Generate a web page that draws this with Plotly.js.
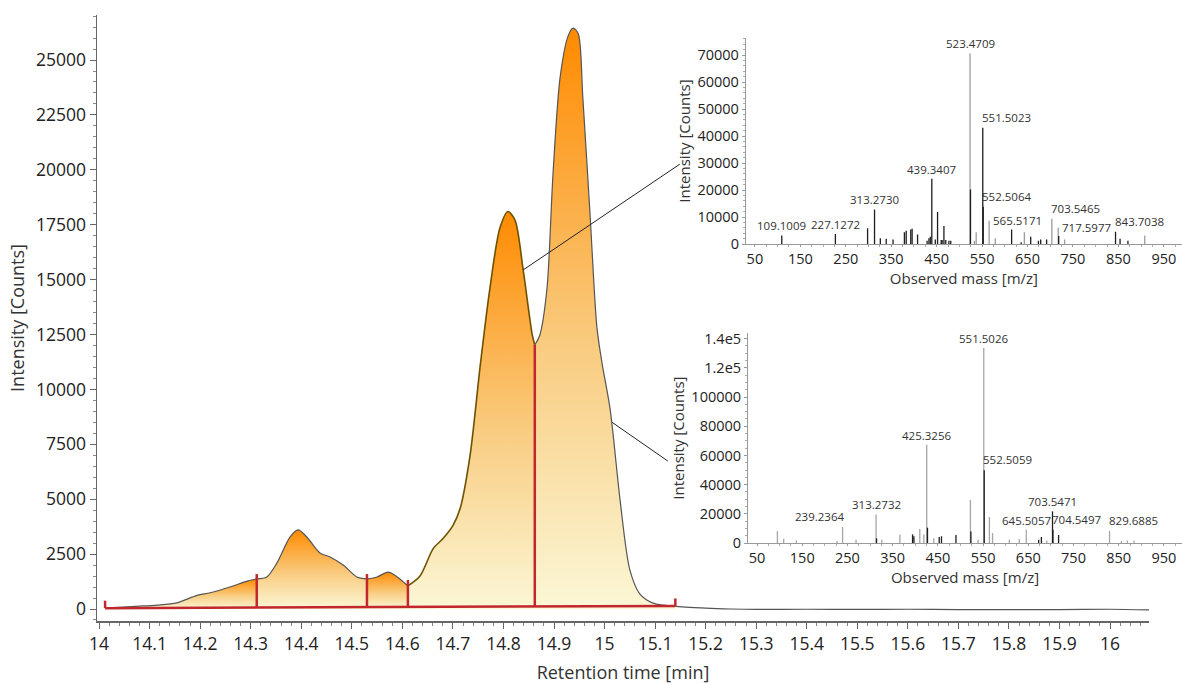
<!DOCTYPE html>
<html>
<head>
<meta charset="utf-8">
<script src="https://cdn.plot.ly/plotly-3.0.1.min.js"></script>
<style>html,body{margin:0;padding:0;background:#fff;}#chart{width:1182px;height:684px;}</style>
</head>
<body>
<div id="chart"></div>
<script>
// ---------- Chromatogram (retention time [min] vs intensity [counts]) ----------
const rtTimes = [14.016, 14.047, 14.08, 14.115, 14.154, 14.194, 14.22, 14.259, 14.293, 14.312,
  14.332, 14.352, 14.378, 14.394, 14.411, 14.437, 14.457, 14.483, 14.51, 14.53,
  14.55, 14.572, 14.59, 14.611,
  14.635, 14.661, 14.68, 14.70, 14.714, 14.734, 14.754, 14.773, 14.793, 14.809, 14.823, 14.839, 14.857, 14.862,
  14.872, 14.886, 14.898, 14.912, 14.928, 14.938, 14.948, 14.957, 14.971, 14.985, 14.995, 15.011, 15.031, 15.05, 15.07, 15.096, 15.14];
const rtIntensity = [50, 90, 130, 180, 280, 620, 740, 1000, 1270, 1370,
  1460, 2100, 3280, 3600, 3280, 2550, 2370, 2000, 1460, 1370,
  1460, 1680, 1460, 1050,
  1500, 2750, 3200, 3800, 4550, 7000, 11070, 14570, 17350, 18100, 17700, 15440, 12480, 12020,
  12480, 14570, 19800, 24200, 26100, 26450, 26200, 23300, 18080, 12800, 11200, 9100, 4900, 1780, 680, 270, 120];
const tailTimes = [15.14, 15.2, 15.25, 15.3, 15.4, 15.5, 15.6, 15.7, 15.8, 15.9, 16.0, 16.077];
const tailIntensity = [120, 40, 0, -20, -10, -20, -10, -30, -30, -30, -10, -40];

// integration boundaries
const segmentBounds = [14.016, 14.312, 14.53, 14.611, 14.862, 15.14];
const splitTimes = [14.312, 14.53, 14.611, 14.862];
const splitTops = [1590, 1590, 1320, 12020];
const baselineTimes = [14.012, 15.14];
const baselineValues = [40, 140];
const baselineEndTops = [380, 480];

// connector lines (main chart -> insets)
const connectorFrom = [[14.839, 15440], [15.015, 8500]];
const connectorTo = [[15.149, 20260], [15.125, 6740]];

// ---------- Spectrum 1 (top inset) ----------
const spec1DarkMz = [109.1009, 227.1272, 298, 313.2730, 326, 339, 354, 379, 383, 393, 396, 408, 429, 433, 436, 439.3407,
  447, 452, 460, 462, 466, 470, 477, 481, 524.47, 551.5023, 552.5064, 615, 636, 657, 674, 679, 692, 718.6, 843.7038, 853.7, 871];
const spec1DarkInt = [3200, 3700, 5900, 12800, 2200, 2000, 1700, 4400, 4900, 5400, 5700, 3500, 1200, 2200, 2700, 24200,
  1700, 11850, 1500, 1500, 6700, 1500, 1200, 1200, 20200, 43100, 13800, 5400, 700, 2700, 1200, 1700, 1700, 3000, 4600, 2000, 1200];
const spec1GrayMz = [523.4709, 533, 537, 565.5171, 579, 643, 703.5465, 717.5977, 731.6, 908];
const spec1GrayInt = [70600, 1200, 4400, 8600, 2200, 4400, 9400, 6000, 1700, 3200];
const spec1Labels = ['109.1009', '227.1272', '313.2730', '439.3407', '523.4709', '551.5023', '552.5064', '565.5171', '703.5465', '717.5977', '843.7038'];
const spec1LabelPlace = ['c', 'c', 'c', 'c', 'c', 'l', 'l', 'lm', 'l', 'lm', 'l'];

// ---------- Spectrum 2 (bottom inset) ----------
const spec2GrayMz = [95, 109, 137, 227, 239.2364, 269, 313.2732, 326, 366, 410, 419, 425.3256, 441, 522, 539, 551.5026,
  564, 571, 608, 630, 645.5057, 691, 829.6885, 856, 869, 884];
const spec2GrayInt = [8200, 3000, 1800, 1400, 11000, 2300, 19600, 2300, 5900, 9600, 5900, 67350, 3200, 29700, 2300, 133600,
  17800, 6800, 2300, 2700, 9100, 1800, 8200, 1400, 1800, 1800];
const spec2DarkMz = [314.3, 394, 397, 427, 453, 458, 490, 523, 552.5059, 673, 679, 703.5471, 704.5497, 717];
const spec2DarkInt = [3200, 5900, 4600, 10500, 4100, 4600, 5500, 7800, 49800, 2300, 4100, 21700, 9100, 5500];
const spec2Labels = ['239.2364', '313.2732', '425.3256', '551.5026', '552.5059', '645.5057', '703.5471', '704.5497', '829.6885'];
const spec2LabelPlace = ['r', 'c', 'c', 'c', 'l', 'c', 'c', 'l', 'l'];
const spec2YTickVals = [0, 20000, 40000, 60000, 80000, 100000, 120000, 140000];
const spec2YTickText = ['0', '20000', '40000', '60000', '80000', '100000', '1.2e5', '1.4e5'];

// ---------- build ----------
const FONT = 'Open Sans, Noto Sans, sans-serif';
const RED = '#c1272d';
const traces = [];

for (let s = 0; s < segmentBounds.length - 1; s++) {
  const lo = segmentBounds[s], hi = segmentBounds[s + 1];
  const xs = [], ys = [];
  rtTimes.forEach((t, i) => { if (t >= lo - 1e-9 && t <= hi + 1e-9) { xs.push(t); ys.push(rtIntensity[i]); } });
  const top = Math.max(...ys);
  const highlighted = (s === 3);
  traces.push({
    type: 'scatter', mode: 'lines', x: xs, y: ys, xaxis: 'x', yaxis: 'y',
    line: { color: highlighted ? '#6e5200' : '#555', width: highlighted ? 1.6 : 1.2, shape: 'spline', smoothing: 0.8 },
    fill: 'tozeroy',
    fillgradient: { type: 'vertical', start: 0, stop: top,
      colorscale: [[0, '#fbf7d6'], [0.45, '#f9cc80'], [1, '#ff8a00']] },
    hoverinfo: 'skip'
  });
}
traces.push({
  type: 'scatter', mode: 'lines', x: tailTimes, y: tailIntensity, xaxis: 'x', yaxis: 'y',
  line: { color: '#555', width: 1.2, shape: 'spline', smoothing: 0.8 }, hoverinfo: 'skip'
});
// baseline
traces.push({ type: 'scatter', mode: 'lines', x: baselineTimes, y: baselineValues, xaxis: 'x', yaxis: 'y',
  line: { color: RED, width: 2.5 }, hoverinfo: 'skip' });
// split + end markers
(function () {
  const xs = [], ys = [];
  const baseAt = t => baselineValues[0] + (baselineValues[1] - baselineValues[0]) * (t - baselineTimes[0]) / (baselineTimes[1] - baselineTimes[0]);
  splitTimes.forEach((t, i) => { xs.push(t, t, null); ys.push(baseAt(t), splitTops[i], null); });
  baselineTimes.forEach((t, i) => { xs.push(t, t, null); ys.push(baselineValues[i], baselineEndTops[i], null); });
  traces.push({ type: 'scatter', mode: 'lines', x: xs, y: ys, xaxis: 'x', yaxis: 'y',
    line: { color: RED, width: 2.5 }, hoverinfo: 'skip' });
})();

function sticks(mz, inten) {
  const x = [], y = [];
  mz.forEach((m, i) => { x.push(m, m, null); y.push(0, inten[i], null); });
  return { x, y };
}
function stickTrace(mz, inten, color, xa, ya) {
  const s = sticks(mz, inten);
  return { type: 'scatter', mode: 'lines', x: s.x, y: s.y, xaxis: xa, yaxis: ya,
    line: { color: color, width: 1.3 }, hoverinfo: 'skip' };
}
traces.push(stickTrace(spec1GrayMz, spec1GrayInt, '#9c9c9c', 'x2', 'y2'));
traces.push(stickTrace(spec1DarkMz, spec1DarkInt, '#1e1e1e', 'x2', 'y2'));
traces.push(stickTrace(spec2GrayMz, spec2GrayInt, '#a6a6a6', 'x3', 'y3'));
traces.push(stickTrace(spec2DarkMz, spec2DarkInt, '#1e1e1e', 'x3', 'y3'));

function findInt(mzList, intList, mz) {
  for (let i = 0; i < mzList.length; i++) if (Math.abs(mzList[i] - mz) < 1e-6) return intList[i];
  return null;
}
const annotations = [];
function addLabels(labels, places, lists, xa, ya) {
  labels.forEach((lab, i) => {
    const mz = parseFloat(lab);
    let v = null;
    for (const [m, n] of lists) { v = findInt(m, n, mz); if (v !== null) break; }
    const p = places[i];
    const a = { x: mz, y: v, xref: xa, yref: ya, text: lab, showarrow: false,
      font: { family: FONT, size: 11.5, color: '#333' }, borderpad: 0 };
    if (p === 'c') { a.xanchor = 'center'; a.yanchor = 'bottom'; a.yshift = 1; }
    else if (p === 'l') { a.xanchor = 'left'; a.yanchor = 'bottom'; a.yshift = 2; a.xshift = -2; }
    else if (p === 'lm') { a.xanchor = 'left'; a.yanchor = 'middle'; a.xshift = 3; }
    else if (p === 'r') { a.xanchor = 'right'; a.yanchor = 'bottom'; a.yshift = 2; a.xshift = 2; }
    annotations.push(a);
  });
}
addLabels(spec1Labels, spec1LabelPlace, [[spec1GrayMz, spec1GrayInt], [spec1DarkMz, spec1DarkInt]], 'x2', 'y2');
addLabels(spec2Labels, spec2LabelPlace, [[spec2GrayMz, spec2GrayInt], [spec2DarkMz, spec2DarkInt]], 'x3', 'y3');

const shapes = connectorFrom.map((f, i) => ({
  type: 'line', xref: 'x', yref: 'y', x0: f[0], y0: f[1], x1: connectorTo[i][0], y1: connectorTo[i][1],
  line: { color: '#222', width: 1 }
}));

const mainTick = { size: 17.5, color: '#222', family: FONT };
const insetTick = { size: 14.5, color: '#222', family: FONT };
function insetX(domain, anchor) {
  return { domain: domain, anchor: anchor, range: [30, 990], tick0: 50, dtick: 100, ticks: 'outside', ticklen: 2,
    tickcolor: '#999', showline: true, linecolor: '#999', linewidth: 1, showgrid: false, zeroline: false,
    tickfont: insetTick, minor: { dtick: 25, ticks: 'outside', ticklen: 2, tickcolor: '#aaa', showgrid: false },
    title: { text: 'Observed mass [m/z]', font: { size: 15, color: '#333', family: FONT }, standoff: 6 } };
}
function insetY(domain, anchor, range) {
  return { domain: domain, anchor: anchor, range: range, ticks: 'outside', ticklen: 3, tickcolor: '#999',
    showline: true, linecolor: '#999', linewidth: 1, showgrid: false, zeroline: false, tickfont: insetTick,
    title: { text: 'Intensity [Counts]', font: { size: 15, color: '#333', family: FONT }, standoff: 3 } };
}

const layout = {
  width: 1182, height: 684,
  margin: { l: 97, r: 0, t: 15, b: 63 },
  paper_bgcolor: '#ffffff', plot_bgcolor: 'rgba(0,0,0,0)',
  showlegend: false,
  font: { family: FONT, color: '#333' },
  xaxis: { domain: [0, 0.9696], anchor: 'y', range: [13.996, 16.077], tick0: 14, dtick: 0.1, ticks: 'outside', ticklen: 6,
    tickcolor: '#666', showline: true, linecolor: '#666', linewidth: 1.5, showgrid: false, zeroline: false,
    tickfont: mainTick, minor: { dtick: 0.02, ticks: 'outside', ticklen: 3, tickcolor: '#888', showgrid: false },
    title: { text: 'Retention time [min]', font: { size: 18, color: '#333', family: FONT }, standoff: 14 } },
  yaxis: { domain: [0, 1], anchor: 'x', range: [-546, 27050], tick0: 0, dtick: 2500, tickformat: 'd', ticks: 'outside', ticklen: 6,
    tickcolor: '#666', showline: true, linecolor: '#666', linewidth: 1.5, showgrid: false, zeroline: false,
    tickfont: mainTick, minor: { dtick: 500, ticks: 'outside', ticklen: 3, tickcolor: '#888', showgrid: false },
    title: { text: 'Intensity [Counts]', font: { size: 18, color: '#333', family: FONT }, standoff: 6 } },
  xaxis2: insetX([0.598, 1], 'y2'),
  yaxis2: Object.assign(insetY([0.622, 0.962], 'x2', [0, 76300]), { tick0: 0, dtick: 10000, tickformat: 'd',
    minor: { dtick: 2000, ticks: 'outside', ticklen: 2, tickcolor: '#aaa', showgrid: false } }),
  xaxis3: insetX([0.600, 1], 'y3'),
  yaxis3: Object.assign(insetY([0.1287, 0.475], 'x3', [0, 143800]), { tickmode: 'array', tickvals: spec2YTickVals, ticktext: spec2YTickText,
    minor: { dtick: 5000, ticks: 'outside', ticklen: 2, tickcolor: '#aaa', showgrid: false } }),
  annotations: annotations,
  shapes: shapes
};

Plotly.newPlot('chart', traces, layout, { staticPlot: true, displayModeBar: false });
</script>
</body>
</html>
